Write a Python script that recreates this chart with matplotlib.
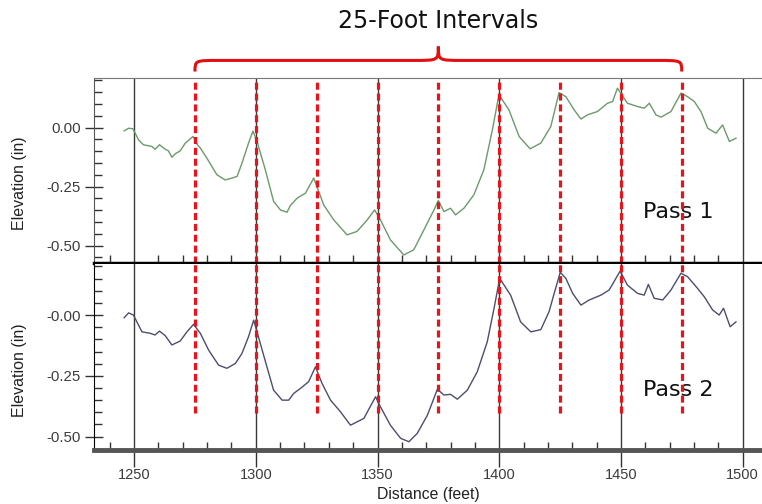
import numpy as np
import matplotlib.pyplot as plt
from matplotlib.path import Path
from matplotlib.patches import PathPatch
from matplotlib.ticker import MultipleLocator, FixedLocator
import matplotlib.transforms as mtransforms

# profile readings (distance in feet, elevation in inches)
pass1_ft = [1245.9, 1247.7, 1249.5, 1251.8, 1253.8, 1257.3, 1258.6, 1260.4, 1262.8, 1264.1,
            1265.5, 1266.9, 1268.9, 1271.0, 1274.2, 1276.0, 1277.2, 1279.9, 1284.0, 1287.4,
            1290.2, 1292.3, 1294.3, 1297.0, 1298.8, 1300.5, 1303.9, 1307.3, 1310.1, 1312.8,
            1314.2, 1317.0, 1320.4, 1323.8, 1327.9, 1332.0, 1337.5, 1341.6, 1345.8, 1348.8,
            1351.2, 1355.3, 1360.8, 1364.9, 1369.1, 1373.2, 1375.0, 1377.3, 1380.0, 1382.1,
            1385.5, 1389.6, 1393.7, 1397.2, 1399.9, 1404.0, 1408.2, 1412.7, 1417.1, 1421.2,
            1424.6, 1427.4, 1430.8, 1433.6, 1436.3, 1440.4, 1444.5, 1446.6, 1448.6, 1452.7,
            1456.9, 1459.6, 1461.7, 1464.4, 1466.5, 1470.6, 1474.7, 1477.4, 1480.2, 1482.9,
            1485.7, 1489.1, 1491.8, 1494.6, 1497.3]
pass1_in = [-0.014, -0.003, -0.005, -0.052, -0.073, -0.080, -0.092, -0.073, -0.092, -0.099,
            -0.126, -0.111, -0.099, -0.066, -0.038, -0.073, -0.087, -0.130, -0.200, -0.222,
            -0.214, -0.207, -0.151, -0.066, -0.015, -0.059, -0.179, -0.313, -0.349, -0.359,
            -0.330, -0.299, -0.278, -0.214, -0.328, -0.391, -0.455, -0.440, -0.391, -0.349,
            -0.391, -0.476, -0.540, -0.518, -0.433, -0.349, -0.309, -0.356, -0.342, -0.370,
            -0.342, -0.285, -0.179, -0.010, 0.139, 0.075, -0.038, -0.090, -0.066, 0.004,
            0.148, 0.131, 0.075, 0.036, 0.054, 0.068, 0.103, 0.110, 0.167, 0.103,
            0.089, 0.082, 0.103, 0.054, 0.044, 0.068, 0.146, 0.131, 0.110, 0.068,
            -0.003, -0.024, 0.011, -0.059, -0.045]

pass2_ft = [1245.9, 1247.7, 1249.7, 1253.2, 1256.6, 1258.6, 1260.4, 1262.8, 1265.5, 1268.9,
            1271.7, 1274.4, 1277.2, 1280.6, 1284.7, 1288.1, 1291.6, 1294.3, 1297.0, 1299.1,
            1300.5, 1303.2, 1307.3, 1310.8, 1313.5, 1315.6, 1318.3, 1321.7, 1324.5, 1327.2,
            1330.7, 1334.8, 1338.9, 1344.4, 1349.2, 1351.2, 1355.3, 1359.5, 1362.9, 1366.3,
            1370.5, 1374.6, 1377.3, 1380.0, 1382.8, 1386.9, 1391.0, 1395.1, 1397.9, 1400.2,
            1404.7, 1408.8, 1413.0, 1417.1, 1420.5, 1422.6, 1425.1, 1427.4, 1430.2, 1433.6,
            1437.0, 1441.8, 1445.2, 1449.7, 1452.7, 1456.9, 1459.6, 1461.3, 1463.7, 1467.2,
            1470.6, 1474.7, 1477.4, 1481.5, 1484.3, 1487.7, 1490.4, 1492.2, 1494.9, 1497.3]
pass2_in = [-0.011, 0.009, 0.000, -0.069, -0.075, -0.082, -0.066, -0.085, -0.123, -0.107,
            -0.069, -0.038, -0.075, -0.144, -0.206, -0.219, -0.199, -0.158, -0.089, -0.021,
            -0.069, -0.165, -0.309, -0.350, -0.350, -0.322, -0.302, -0.274, -0.213, -0.281,
            -0.350, -0.398, -0.453, -0.425, -0.336, -0.377, -0.453, -0.507, -0.521, -0.487,
            -0.412, -0.305, -0.329, -0.326, -0.346, -0.309, -0.233, -0.110, 0.028, 0.151,
            0.082, -0.028, -0.069, -0.060, 0.014, 0.089, 0.176, 0.151, 0.089, 0.041,
            0.062, 0.082, 0.103, 0.181, 0.123, 0.089, 0.082, 0.126, 0.069, 0.062,
            0.103, 0.172, 0.158, 0.110, 0.075, 0.021, 0.000, 0.028, -0.048, -0.028]

interval_marks = [1275, 1300, 1325, 1350, 1375, 1400, 1425, 1450, 1475]
grid_marks = [1250, 1300, 1350, 1400, 1450, 1500]
ytick_vals = [0.0, -0.25, -0.5]
ytick_top = ['0.00', '-0.25', '-0.50']
ytick_bot = ['-0.00', '-0.25', '-0.50']

fig = plt.figure(figsize=(7.62, 5.04), dpi=100)
W, H = 762, 504
ax1 = fig.add_axes([94 / W, 1 - 263 / H, 1 - 94 / W, 185 / H])
ax2 = fig.add_axes([94 / W, 1 - 450 / H, 1 - 94 / W, 186 / H])

tick_col = '#3c3c3c'
for ax, ft, vals, col, lab, ylim, txt in [
        (ax1, pass1_ft, pass1_in, '#6b9a6b', ytick_top, (-0.574, 0.21), 'Pass 1'),
        (ax2, pass2_ft, pass2_in, '#4d4d6e', ytick_bot, (-0.555, 0.21), 'Pass 2')]:
    ax.set_xlim(1233.5, 1508)
    ax.set_ylim(*ylim)
    for g in grid_marks:
        ax.axvline(g, color='#3a3a3a', lw=1.0, zorder=1)
    ax.plot(ft, vals, color=col, lw=1.0, zorder=3)
    ax.yaxis.set_major_locator(FixedLocator(ytick_vals))
    ax.set_yticklabels(lab)
    ax.yaxis.set_minor_locator(MultipleLocator(0.05))
    ax.xaxis.set_major_locator(FixedLocator(grid_marks))
    ax.xaxis.set_minor_locator(MultipleLocator(10))
    ax.tick_params(axis='y', which='major', direction='inout', length=13, width=1,
                   color='#333333', labelsize=10.8, labelcolor=tick_col, pad=3)
    ax.tick_params(axis='y', which='minor', direction='in', length=6, width=1, color='#333333')
    ax.tick_params(axis='x', which='minor', direction='in', length=6, width=1, color='#333333')
    ax.set_ylabel('Elevation (in)', fontsize=11.5, color='#222222', family='Liberation Sans')
    ax.yaxis.set_label_coords(-0.101, 0.43)
    for t in ax.get_yticklabels():
        t.set_family('Liberation Sans')
    ax.spines['right'].set_visible(False)
    ax.text(1473.5, -0.357 if ax is ax1 else -0.309, txt, fontsize=16, ha='center',
            va='center', color='#111111', zorder=2)

ax1.tick_params(axis='x', which='major', length=0, labelbottom=False)
ax1.spines['top'].set_color('#777777')
ax1.spines['left'].set_color('#555555')
ax1.spines['bottom'].set_linewidth(2.5)
ax1.spines['bottom'].set_color('black')
ax1.spines['bottom'].set_zorder(5)
ax2.spines['top'].set_visible(False)
ax2.spines['bottom'].set_linewidth(3.5)
ax2.spines['bottom'].set_color('#555555')
ax2.tick_params(axis='x', which='major', direction='out', length=12, width=1,
                color='#333333', labelsize=10.5, labelcolor=tick_col, pad=1)
for t in ax2.get_xticklabels():
    t.set_family('Liberation Sans')
ax2.set_xlabel('Distance (feet)', fontsize=11.3, color='#222222', family='Liberation Sans')
ax2.xaxis.set_label_coords(0.5, -0.2)

# red dashed 25-ft markers
ax1.vlines(interval_marks, ax1.get_ylim()[0], 0.2, colors='#e8141c', lw=2.3,
           linestyles=(0, (2.2, 1.2)), zorder=4)
ax2.vlines(interval_marks, -0.403, 0.21, colors='#e8141c', lw=2.3,
           linestyles=(0, (2.2, 1.2)), zorder=4)

# curly brace spanning the markers
trans = mtransforms.blended_transform_factory(ax1.transData, ax1.transAxes)
x0, x1 = interval_marks[0], interval_marks[-1]
xc = (x0 + x1) / 2
ye, yh, yt = 1.035, 1.095, 1.17
r = 10
verts = [(x0, ye), (x0, yh), (x0, yh), (x0 + r, yh),
         (xc - r, yh), (xc, yh), (xc, yh), (xc, yt),
         (xc, yh), (xc, yh), (xc + r, yh),
         (x1 - r, yh), (x1, yh), (x1, yh), (x1, ye)]
codes = [Path.MOVETO, Path.CURVE4, Path.CURVE4, Path.CURVE4,
         Path.LINETO, Path.CURVE4, Path.CURVE4, Path.CURVE4,
         Path.CURVE4, Path.CURVE4, Path.CURVE4,
         Path.LINETO, Path.CURVE4, Path.CURVE4, Path.CURVE4]
brace = PathPatch(Path(verts, codes), fill=False, edgecolor='#e01010', lw=2.2,
                  transform=trans, clip_on=False)
ax1.add_patch(brace)
ax1.text(xc, 1.31, '25-Foot Intervals', transform=trans, ha='center', va='center',
         fontsize=17, color='#111111')

fig.savefig('out.png', dpi=100)
